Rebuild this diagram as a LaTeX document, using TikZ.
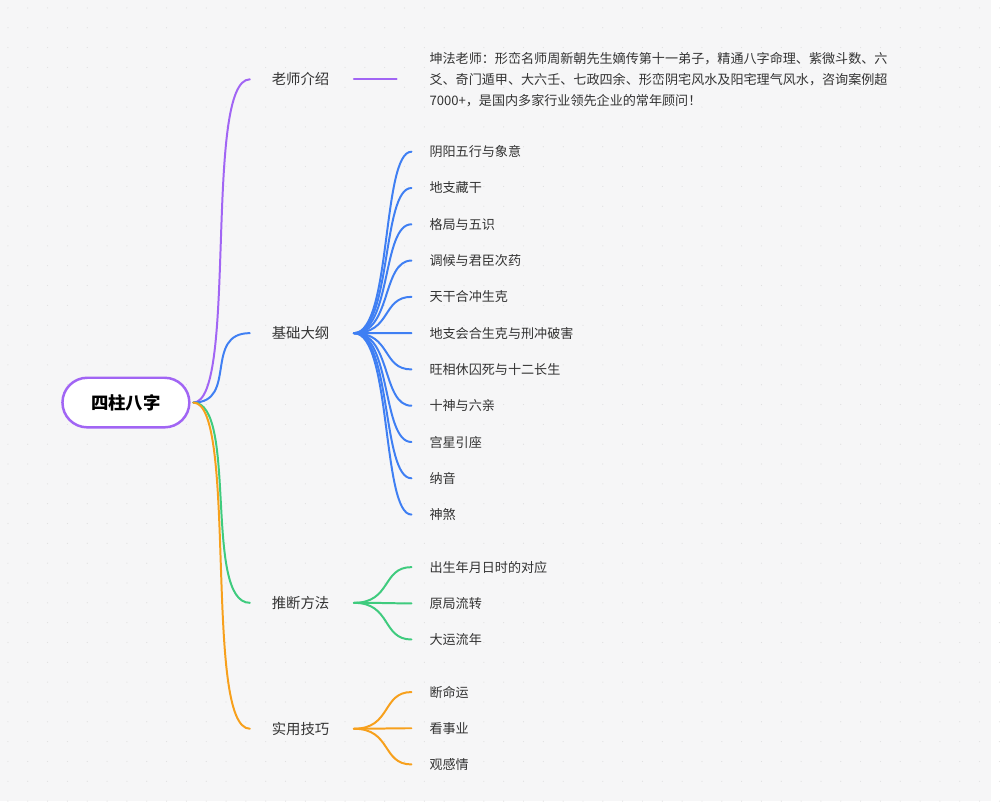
\documentclass[tikz,border=0pt]{standalone}
\usepackage{fontspec}
\setmainfont{Noto Sans CJK SC}
\definecolor{bg}{HTML}{F6F6F7}
\definecolor{cpur}{HTML}{A165F4}
\definecolor{cblu}{HTML}{3F7FF3}
\definecolor{cgrn}{HTML}{3FCB7E}
\definecolor{cora}{HTML}{F7A01C}
\definecolor{txt}{HTML}{333333}
\begin{document}
\begin{tikzpicture}[x=1pt,y=-1pt,
  lbl/.style={anchor=west,inner sep=0pt,text=txt,font=\fontsize{14.5}{16}\selectfont},
  sub/.style={anchor=west,inner sep=0pt,text=txt,font=\fontsize{13.2}{15}\selectfont},
  con/.style={line width=2pt,line cap=round}]
\fill[bg] (0,0) rectangle (1000,808);
\foreach \i in {0,...,50}{\foreach \j in {0,...,40}{\fill[black!12] (\i*20+8,\j*20+8) circle (0.6);}}
\node[draw=cpur,line width=2.5pt,fill=white,rounded corners=25pt,minimum width=128pt,minimum height=50pt,font=\bfseries\fontsize{17.5}{20}\selectfont,text=black] (root) at (127,406) {四柱八字};
\coordinate (r) at (195,406);
% branches
\node[lbl] (b1) at (274,80) {老师介绍};
\node[lbl] (b2) at (274,336) {基础大纲};
\node[lbl] (b3) at (274,608) {推断方法};
\node[lbl] (b4) at (274,735) {实用技巧};
\foreach \b/\c in {b1/cpur,b2/cblu,b3/cgrn,b4/cora}{
  \draw[con,\c] (r) .. controls (240,406) and (205,0|-\b.west) .. ([xshift=-22pt]\b.west);
}
% teacher
\node[sub,align=left,font=\fontsize{13.2}{21}\selectfont] (t) at (433,80) {坤法老师：形峦名师周新朝先生嫡传第十一弟子，精通八字命理、紫微斗数、六\\爻、奇门遁甲、大六壬、七政四余、形峦阴宅风水及阳宅理气风水，咨询案例超\\7000+，是国内多家行业领先企业的常年顾问！};
\coordinate (f1) at (357,80);
\draw[con,cpur] (f1) -- ([xshift=-33pt]t.west);
% fans
\coordinate (f2) at (357,336);
\coordinate (f3) at (357,608);
\coordinate (f4) at (357,735);
\foreach \t [count=\k from 0] in {阴阳五行与象意,地支藏干,格局与五识,调候与君臣次药,天干合冲生克,地支会合生克与刑冲破害,旺相休囚死与十二长生,十神与六亲,宫星引座,纳音,神煞}{
  \node[sub] (s\k) at (433,153+36.6*\k) {\t};
  \draw[con,cblu] (f2) .. controls (395,336) and (385,0|-s\k.west) .. ([xshift=-18pt]s\k.west);
}
\foreach \t [count=\k from 0] in {出生年月日时的对应,原局流转,大运流年}{
  \node[sub] (g\k) at (433,572+36.5*\k) {\t};
  \draw[con,cgrn] (f3) .. controls (395,608) and (385,0|-g\k.west) .. ([xshift=-18pt]g\k.west);
}
\foreach \t [count=\k from 0] in {断命运,看事业,观感情}{
  \node[sub] (o\k) at (433,698+36.5*\k) {\t};
  \draw[con,cora] (f4) .. controls (395,735) and (385,0|-o\k.west) .. ([xshift=-18pt]o\k.west);
}
\end{tikzpicture}
\end{document}
